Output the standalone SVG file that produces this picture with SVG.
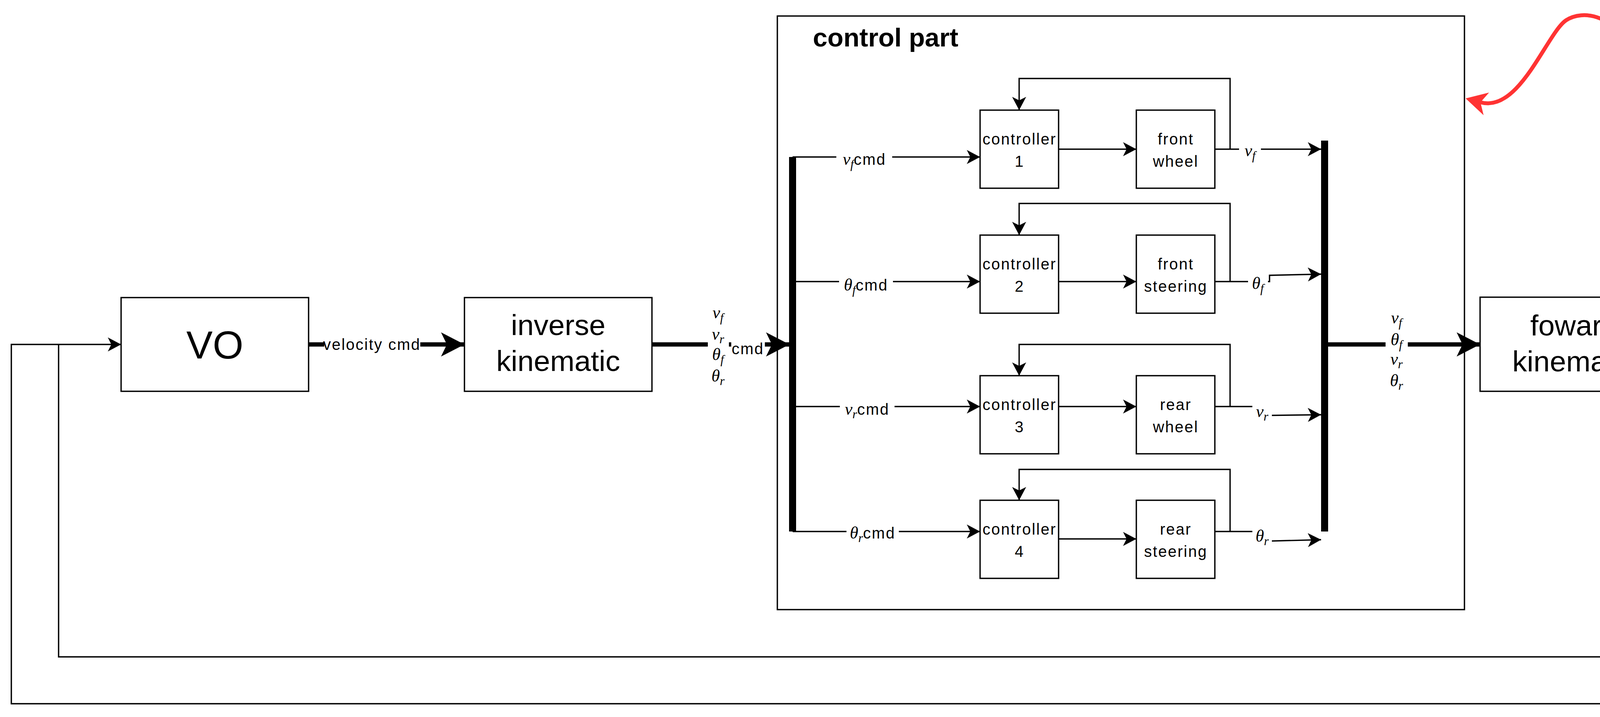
<svg xmlns="http://www.w3.org/2000/svg" width="5344" height="1836" viewBox="0 0 5344 1836">
<defs>
<style>
.box{fill:#fff;stroke:#000;stroke-width:3.4}
.ln{fill:none;stroke:#000;stroke-width:3.4}
.thk{fill:none;stroke:#000;stroke-width:11}
.bus{fill:none;stroke:#000;stroke-width:18}
.bg{fill:#fff;stroke:none}
text{font-family:"Liberation Sans",Arial,sans-serif;fill:#000}
.ctr{text-anchor:middle}
.big{font-size:75px;text-anchor:middle}
.vo{font-size:101px;text-anchor:middle}
.sm{font-size:40px;letter-spacing:2.5px}
.m{font-family:"Liberation Serif","DejaVu Serif",serif;font-style:italic;font-size:44px;letter-spacing:0}
.s{font-size:31px}
.fm{font-size:62px}
.fs{font-size:42px}
.up{font-style:normal}
.int{font-size:150px}
.bold{font-weight:bold}
</style>
<marker id="a" markerUnits="userSpaceOnUse" viewBox="0 0 34 36" refX="34" refY="18" markerWidth="34" markerHeight="36" orient="auto"><path d="M0,0 L34,18 L0,36 L9,18 Z" fill="#000"/></marker>
<marker id="A" markerUnits="userSpaceOnUse" viewBox="0 0 60 62" refX="60" refY="31" markerWidth="60" markerHeight="62" orient="auto"><path d="M0,0 L60,31 L0,62 L15,31 Z" fill="#000"/></marker>
</defs>
<rect width="5344" height="1836" fill="#fff"/>

<g id="control-part">
<rect class="box" x="1990" y="41" width="1759" height="1520"/>
<text class="bold" x="2081" y="119" font-size="67">control part</text>
</g>

<g id="connectors">
<path class="ln" d="M5230,883 H5308 V1802 H29 V882 H310" marker-end="url(#a)"/>
<path class="ln" d="M4430,922 V1682 H150 V882"/>
<path class="thk" d="M790,882 H1189" marker-end="url(#A)"/>
<path class="thk" d="M1669,882 H2021" marker-end="url(#A)"/>
<path class="bus" d="M2029,402 V1361"/>
<path class="bus" d="M3391,360 V1361"/>
<path class="ln" d="M2029,402 H2509" marker-end="url(#a)"/>
<path class="ln" d="M2029,721 H2509" marker-end="url(#a)"/>
<path class="ln" d="M2029,1041 H2509" marker-end="url(#a)"/>
<path class="ln" d="M2029,1361 H2509" marker-end="url(#a)"/>
<path class="ln" d="M2710,382 H2909" marker-end="url(#a)"/>
<path class="ln" d="M2710,721 H2909" marker-end="url(#a)"/>
<path class="ln" d="M2710,1041 H2909" marker-end="url(#a)"/>
<path class="ln" d="M2710,1380 H2909" marker-end="url(#a)"/>
<path class="ln" d="M3110,382 H3382" marker-end="url(#a)"/>
<path class="ln" d="M3110,721 H3250 V705 L3382,702" marker-end="url(#a)"/>
<path class="ln" d="M3110,1041 H3230 V1064 L3382,1062" marker-end="url(#a)"/>
<path class="ln" d="M3110,1361 H3230 V1386 L3382,1382" marker-end="url(#a)"/>
<path class="ln" d="M3149,382 V201 H2609 V282" marker-end="url(#a)"/>
<path class="ln" d="M3149,721 V521 H2609 V602" marker-end="url(#a)"/>
<path class="ln" d="M3149,1041 V882 H2609 V962" marker-end="url(#a)"/>
<path class="ln" d="M3149,1361 V1202 H2609 V1281" marker-end="url(#a)"/>
<path class="thk" d="M3400,882 H3789" marker-end="url(#A)"/>
<path class="ln" d="M4270,832 H4548" marker-end="url(#a)"/>
<path class="ln" d="M4270,922 H4548" marker-end="url(#a)"/>
<path class="thk" d="M4790,882 H4870" marker-end="url(#A)"/>
<path d="M4190,160 C4140,30 4050,25 4009,52 C3960,85 3890,290 3790,262" fill="none" stroke="#ff3333" stroke-width="10"/>
<polygon points="3752,252 3812,237 3790,262 3798,295" fill="#ff3333"/>

<rect class="bg" x="830" y="866" width="246" height="36"/>
<text class="sm ctr" x="952" y="896">velocity cmd</text>

<rect class="bg" x="1812" y="790" width="54" height="195"/>
<rect class="bg" x="1872" y="872" width="86" height="40"/>
<text class="ctr" x="1838" y="815"><tspan class="m">v</tspan><tspan class="m s" dy="9">f</tspan></text>
<text class="ctr" x="1838" y="870"><tspan class="m">v</tspan><tspan class="m s" dy="9">r</tspan></text>
<text class="ctr" x="1838" y="922"><tspan class="m">θ</tspan><tspan class="m s" dy="9">f</tspan></text>
<text class="ctr" x="1838" y="977"><tspan class="m">θ</tspan><tspan class="m s" dy="9">r</tspan></text>
<text class="sm" x="1873" y="907">cmd</text>

<rect class="bg" x="2141" y="385" width="143" height="45"/>
<text class="ctr" x="2213" y="422"><tspan class="m">v</tspan><tspan class="m s" dy="9">f</tspan><tspan class="sm" dy="-9">cmd</tspan></text>
<rect class="bg" x="2148" y="704" width="138" height="45"/>
<text class="ctr" x="2217" y="744"><tspan class="m">θ</tspan><tspan class="m s" dy="9">f</tspan><tspan class="sm" dy="-9">cmd</tspan></text>
<rect class="bg" x="2150" y="1024" width="140" height="45"/>
<text class="ctr" x="2220" y="1062"><tspan class="m">v</tspan><tspan class="m s" dy="9">r</tspan><tspan class="sm" dy="-9">cmd</tspan></text>
<rect class="bg" x="2167" y="1344" width="134" height="45"/>
<text class="ctr" x="2234" y="1379"><tspan class="m">θ</tspan><tspan class="m s" dy="9">r</tspan><tspan class="sm" dy="-9">cmd</tspan></text>

<rect class="bg" x="3172" y="365" width="56" height="50"/>
<text class="ctr" x="3200" y="400"><tspan class="m">v</tspan><tspan class="m s" dy="9">f</tspan></text>
<rect class="bg" x="3195" y="700" width="51" height="52"/>
<text class="ctr" x="3220" y="740"><tspan class="m">θ</tspan><tspan class="m s" dy="9">f</tspan></text>
<rect class="bg" x="3206" y="1030" width="50" height="50"/>
<text class="ctr" x="3231" y="1068"><tspan class="m">v</tspan><tspan class="m s" dy="9">r</tspan></text>
<rect class="bg" x="3206" y="1345" width="50" height="52"/>
<text class="ctr" x="3231" y="1387"><tspan class="m">θ</tspan><tspan class="m s" dy="9">r</tspan></text>

<rect class="bg" x="3547" y="800" width="57" height="195"/>
<text class="ctr" x="3575" y="828"><tspan class="m">v</tspan><tspan class="m s" dy="9">f</tspan></text>
<text class="ctr" x="3575" y="884"><tspan class="m">θ</tspan><tspan class="m s" dy="9">f</tspan></text>
<text class="ctr" x="3575" y="934"><tspan class="m">v</tspan><tspan class="m s" dy="9">r</tspan></text>
<text class="ctr" x="3575" y="989"><tspan class="m">θ</tspan><tspan class="m s" dy="9">r</tspan></text>

<rect class="bg" x="4357" y="815" width="36" height="36"/>
<text class="ctr m" x="4375" y="847">ω</text>
<rect class="bg" x="4347" y="880" width="53" height="100"/>
<text class="ctr" x="4373" y="913"><tspan class="m">v</tspan><tspan class="m s" dy="9">x</tspan></text>
<text class="ctr" x="4373" y="960"><tspan class="m">v</tspan><tspan class="m s" dy="9">y</tspan></text>

<rect class="bg" x="5290" y="1180" width="36" height="105"/>
<text class="ctr m" x="5308" y="1225">x</text>
<text class="ctr m" x="5308" y="1266">y</text>
</g>

<g id="vo">
<rect class="box" x="310" y="762" width="480" height="240"/>
<text class="vo" x="550" y="918">VO</text>
</g>

<g id="inverse-kinematic">
<rect class="box" x="1189" y="762" width="480" height="240"/>
<text class="big" x="1429" y="858">inverse</text>
<text class="big" x="1429" y="950">kinematic</text>
</g>

<g id="controller-1">
<rect class="box" x="2509" y="282" width="201" height="200"/>
<text class="sm ctr" x="2610" y="370">controller</text>
<text class="sm ctr" x="2610" y="427">1</text>
</g>
<g id="front-wheel">
<rect class="box" x="2909" y="282" width="201" height="200"/>
<text class="sm ctr" x="3010" y="370">front</text>
<text class="sm ctr" x="3010" y="427">wheel</text>
</g>
<g id="controller-2">
<rect class="box" x="2509" y="602" width="201" height="200"/>
<text class="sm ctr" x="2610" y="690">controller</text>
<text class="sm ctr" x="2610" y="747">2</text>
</g>
<g id="front-steering">
<rect class="box" x="2909" y="602" width="201" height="200"/>
<text class="sm ctr" x="3010" y="690">front</text>
<text class="sm ctr" x="3010" y="747">steering</text>
</g>
<g id="controller-3">
<rect class="box" x="2509" y="962" width="201" height="200"/>
<text class="sm ctr" x="2610" y="1050">controller</text>
<text class="sm ctr" x="2610" y="1107">3</text>
</g>
<g id="rear-wheel">
<rect class="box" x="2909" y="962" width="201" height="200"/>
<text class="sm ctr" x="3010" y="1050">rear</text>
<text class="sm ctr" x="3010" y="1107">wheel</text>
</g>
<g id="controller-4">
<rect class="box" x="2509" y="1281" width="201" height="200"/>
<text class="sm ctr" x="2610" y="1369">controller</text>
<text class="sm ctr" x="2610" y="1426">4</text>
</g>
<g id="rear-steering">
<rect class="box" x="2909" y="1281" width="201" height="200"/>
<text class="sm ctr" x="3010" y="1369">rear</text>
<text class="sm ctr" x="3010" y="1426">steering</text>
</g>

<g id="foward-kinematic">
<rect class="box" x="3789" y="761" width="481" height="241"/>
<text class="big" x="4030" y="859">foward</text>
<text class="big" x="4030" y="951">kinematic</text>
</g>

<g id="integral">
<rect class="box" x="4548" y="761" width="242" height="241"/>
<text class="ctr m int" x="4669" y="928">∫</text>
</g>

<g id="position">
<rect class="box" x="4870" y="763" width="360" height="237"/>
<text class="sm" x="4903" y="897">position</text>
<path d="M5109,777 H5100 V987 H5109 M5156,777 H5171 V987 H5156" fill="none" stroke="#000" stroke-width="4"/>
<text class="ctr m" x="5135" y="818">x</text>
<text class="ctr m" x="5135" y="897">y</text>
<text class="ctr m" x="5135" y="975">ψ</text>
</g>

<g id="constraint">
<rect x="4190" y="2" width="799" height="320" fill="#fff" stroke="#b85450" stroke-width="3.4"/>
<rect x="4190" y="2" width="799" height="91" fill="#f8cecc" stroke="#b85450" stroke-width="3.4"/>
<text class="bold ctr" x="4590" y="63" font-size="47">constraint</text>
<text class="ctr" x="4589" y="235"><tspan class="m fm">v</tspan><tspan class="m fs" dy="11">f</tspan><tspan class="m fm" dy="-11">cos(θ</tspan><tspan class="m fs" dy="11">f</tspan><tspan class="m fm" dy="-11">) </tspan><tspan class="m fm up">=</tspan><tspan class="m fm"> v</tspan><tspan class="m fs" dy="11">r</tspan><tspan class="m fm" dy="-11">cos(θ</tspan><tspan class="m fs" dy="11">r</tspan><tspan class="m fm" dy="-11">)</tspan></text>
</g>
</svg>
